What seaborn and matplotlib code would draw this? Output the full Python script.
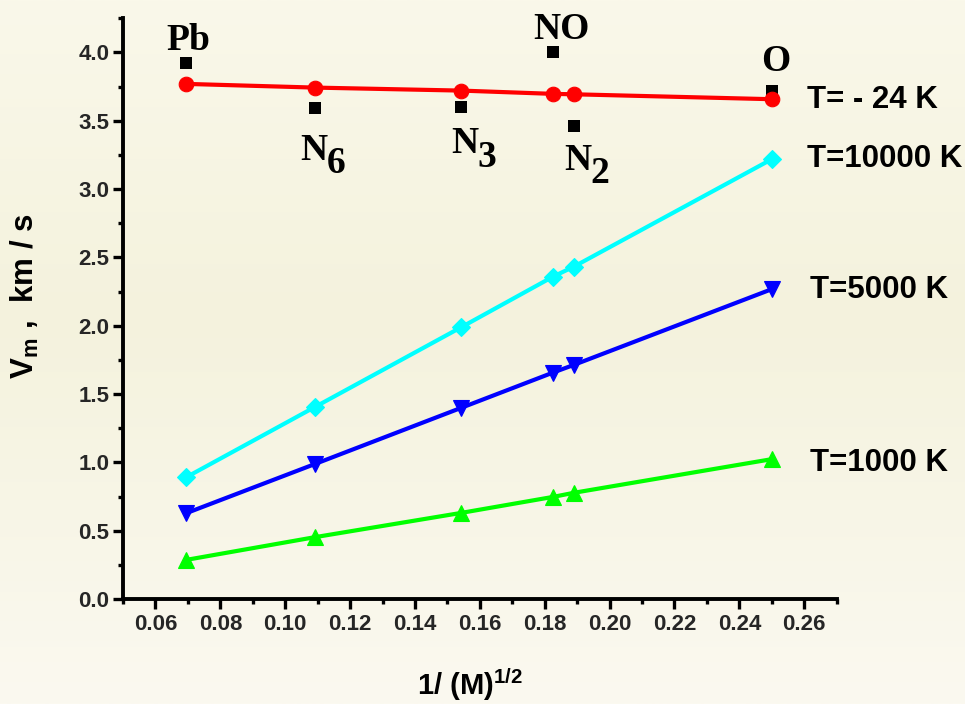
import numpy as np
import pandas as pd
import matplotlib
matplotlib.use("Agg")
import matplotlib.pyplot as plt
from matplotlib.colors import LinearSegmentedColormap
import seaborn as sns

# x = 1/sqrt(M) for each particle
species = ["Pb", "N6", "N3", "NO", "N2", "O"]
inv_sqrt_m = [0.0695, 0.1091, 0.1543, 0.1826, 0.1890, 0.2500]

# measured velocities (black squares)
v_measured = [3.92, 3.59, 3.60, 4.00, 3.46, 3.72]

# model curves, km/s
v_t_minus24 = [3.770, 3.743, 3.721, 3.697, 3.694, 3.658]
v_t10000 = [0.892, 1.405, 1.990, 2.360, 2.433, 3.219]
v_t5000 = [0.629, 0.988, 1.400, 1.658, 1.714, 2.268]
v_t1000 = [0.287, 0.453, 0.631, 0.748, 0.778, 1.024]

curve_names = ["T= - 24 K", "T=10000 K", "T=5000 K", "T=1000 K"]

sns.set_theme(style="ticks")
plt.rcParams["font.family"] = ["Liberation Sans", "DejaVu Sans"]
plt.rcParams["font.weight"] = "bold"
plt.rcParams["xtick.labelsize"] = 16
plt.rcParams["ytick.labelsize"] = 16

fig = plt.figure(figsize=(9.65, 7.04), dpi=100)

# soft cream gradient behind everything
bg_ax = fig.add_axes([0, 0, 1, 1], zorder=0)
cmap = LinearSegmentedColormap.from_list(
    "cream", [(0.0, "#FAF8EA"), (0.45, "#F4F2DD"), (1.0, "#FBF9F0")])
grad = np.linspace(0, 1, 256).reshape(-1, 1)
bg_ax.imshow(grad, aspect="auto", cmap=cmap, extent=[0, 1, 0, 1], origin="upper")
bg_ax.set_axis_off()

ax = fig.add_axes([0.1275, 0.149, 0.7395, 0.825], zorder=1)
ax.set_facecolor("none")

df = pd.DataFrame({
    "x": inv_sqrt_m,
    "meas": v_measured,
    curve_names[0]: v_t_minus24,
    curve_names[1]: v_t10000,
    curve_names[2]: v_t5000,
    curve_names[3]: v_t1000,
})

styles = {
    curve_names[0]: dict(color="#FF0000", marker="o", markersize=10.5),
    curve_names[1]: dict(color="#00FFFF", marker="D", markersize=8.8),
    curve_names[2]: dict(color="#0000FF", marker="v", markersize=12),
    curve_names[3]: dict(color="#00FF00", marker="^", markersize=12),
}

for name in [curve_names[3], curve_names[2], curve_names[1], curve_names[0]]:
    st = styles[name]
    sns.lineplot(data=df, x="x", y=name, ax=ax, color=st["color"],
                 marker=st["marker"], markersize=st["markersize"],
                 markeredgecolor=st["color"], markeredgewidth=0.8,
                 linewidth=3.0, legend=False)

sns.scatterplot(data=df, x="x", y="meas", ax=ax, marker="s", s=72,
                color="black", edgecolor="black", linewidth=0, zorder=1.5,
                legend=False)

xt = np.arange(0.06, 0.261, 0.02)
yt = np.arange(0.0, 4.01, 0.5)
ax.set_xlim(0.05, 0.27)
ax.set_ylim(0.0, 4.25)
ax.set_xticks(xt)
ax.set_xticks(np.arange(0.05, 0.271, 0.02), minor=True)
ax.set_yticks(yt)
ax.set_yticks(np.arange(0.25, 4.26, 0.5), minor=True)
ax.set_xticklabels([f"{v:.2f}" for v in xt], fontsize=16, fontweight="bold")
ax.set_yticklabels([f"{v:.1f}" for v in yt], fontsize=16, fontweight="bold")
ax.set_xlabel("")
ax.set_ylabel("")

for side in ["top", "right"]:
    ax.spines[side].set_visible(False)
for side in ["left", "bottom"]:
    ax.spines[side].set_linewidth(2.8)
    ax.spines[side].set_color("black")

ax.tick_params(axis="both", which="major", length=7.5, width=2.4,
               color="black", pad=2.5, direction="out")
ax.tick_params(axis="both", which="minor", length=3.8, width=2.4,
               color="black", direction="out")
ax.tick_params(axis="x", which="major", pad=3.5)

# species labels
serif = ["Liberation Serif", "DejaVu Serif"]
fs_sp = 27
ax.text(0.0700, 4.018, "Pb", family=serif, fontsize=fs_sp, fontweight="bold",
        ha="center", va="baseline", color="black")
ax.text(0.1852, 4.099, "NO", family=serif, fontsize=fs_sp, fontweight="bold",
        ha="center", va="baseline", color="black")
ax.text(0.2513, 3.865, "O", family=serif, fontsize=fs_sp, fontweight="bold",
        ha="center", va="baseline", color="black")

for xv, yv, digit, drop in [(0.1047, 3.214, "6", 13),
                            (0.1511, 3.265, "3", 14),
                            (0.1860, 3.140, "2", 13)]:
    ax.text(xv, yv, "N", family=serif, fontsize=fs_sp, fontweight="bold",
            ha="left", va="baseline", color="black")
    ax.annotate(digit, xy=(xv, yv), xycoords="data", xytext=(26, -drop),
                textcoords="offset pixels", family=serif, fontsize=fs_sp,
                fontweight="bold", ha="left", va="baseline", color="black")

# temperature labels at the right end of each curve
for name, xv, yv in [(curve_names[0], 0.2609, 3.594),
                     (curve_names[1], 0.2609, 3.163),
                     (curve_names[2], 0.2619, 2.204),
                     (curve_names[3], 0.2619, 0.939)]:
    ax.text(xv, yv, name, fontsize=22.5, fontweight="bold", ha="left",
            va="baseline", color="black", clip_on=False)

fig.text(0.026, 0.579, r"V$_\mathregular{m}$ ,  km / s", rotation=90,
         fontsize=22.5, fontweight="bold", ha="center", va="center", color="black")
fig.text(0.487, 0.0128, r"1/ (M)$^\mathregular{1/2}$", fontsize=21,
         fontweight="bold", ha="center", va="baseline", color="black")

fig.savefig("out.png", dpi=100)
